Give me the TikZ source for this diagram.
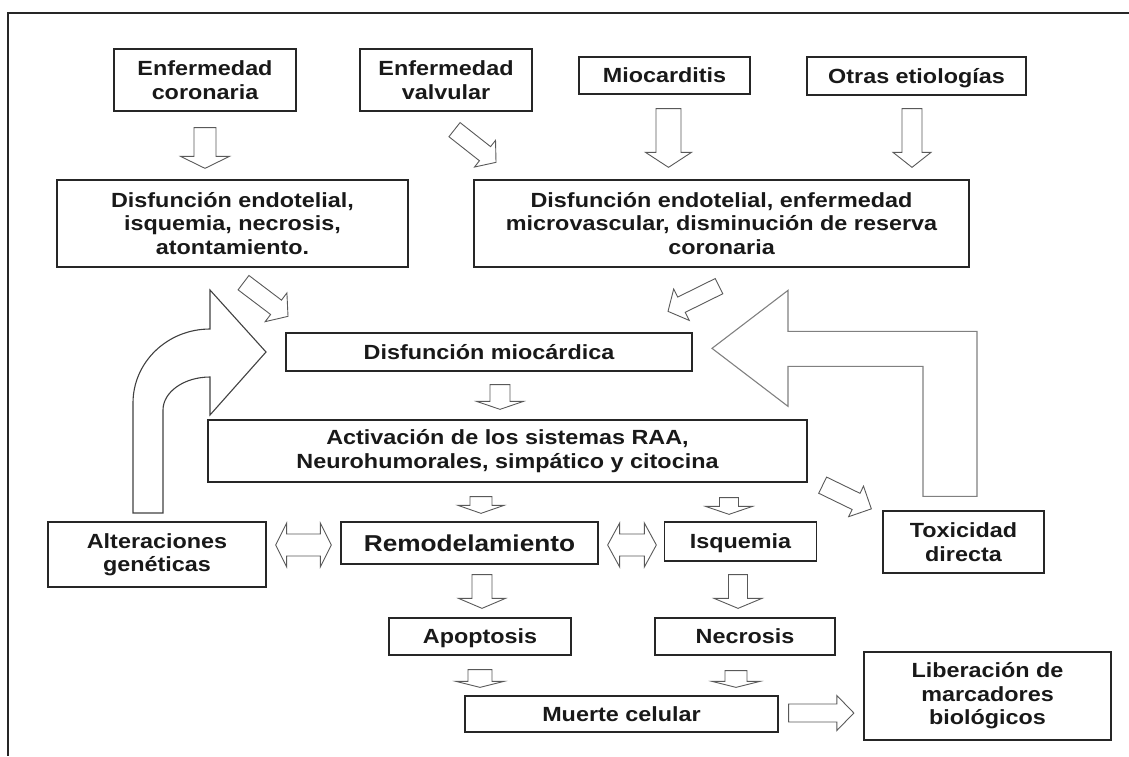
\documentclass[tikz,border=0pt]{standalone}
\usepackage{fontspec}
\setmainfont{Liberation Sans}[FakeStretch=1.14]
\usetikzlibrary{calc}

% hollow block arrow: [style]{tail}{tip}{shaft half width}{head half width}{head length}
\newcommand{\hollowarrow}[6][]{%
  \coordinate (ht) at #2;
  \coordinate (hp) at #3;
  \coordinate (hb) at ($(hp)!#6pt!(ht)$);
  \draw[harrow,#1] ($(ht)!#4pt!90:(hp)$) -- ($(hb)!#4pt!90:(hp)$) -- ($(hb)!#5pt!90:(hp)$) -- (hp)
    -- ($(hb)!#5pt!-90:(hp)$) -- ($(hb)!#4pt!-90:(hp)$) -- ($(ht)!#4pt!-90:(hp)$) -- cycle;}
% same with a head at both ends
\newcommand{\twowayarrow}[6][]{%
  \coordinate (da) at #2;
  \coordinate (dc) at #3;
  \coordinate (db1) at ($(da)!#6pt!(dc)$);
  \coordinate (db2) at ($(dc)!#6pt!(da)$);
  \draw[harrow,#1] (da) -- ($(db1)!#5pt!90:(dc)$) -- ($(db1)!#4pt!90:(dc)$) -- ($(db2)!#4pt!90:(dc)$)
    -- ($(db2)!#5pt!90:(dc)$) -- (dc) -- ($(db2)!#5pt!-90:(dc)$) -- ($(db2)!#4pt!-90:(dc)$)
    -- ($(db1)!#4pt!-90:(dc)$) -- ($(db1)!#5pt!-90:(dc)$) -- cycle;}

\begin{document}
\begin{tikzpicture}[x=1pt, y=-1pt,
    box/.style={draw=black!85, line width=1.3pt, text=black!90, align=center, inner sep=0pt,
      font=\fontsize{20.5}{23.5}\selectfont\bfseries},
    harrow/.style={draw=black!65, line width=0.9pt, line join=miter},
    bigarrow/.style={line width=1.1pt, line join=miter}]
    \useasboundingbox (0,0) rectangle (1129,756);
    \draw[line width=1.4pt, black!85] (1129,13) -- (8,13) -- (8,756);

    % causes
    \node[box, minimum width=182pt, minimum height=62pt] (coro) at (205,80) {Enfermedad\\coronaria};
    \node[box, minimum width=172pt, minimum height=62pt] (valv) at (446,80) {Enfermedad\\valvular};
    \node[box, minimum width=171pt, minimum height=37pt] (mioc) at (664.5,75.5) {Miocarditis};
    \node[box, minimum width=219pt, minimum height=38pt, text depth=0pt] (otras) at (916.5,76) {Otras etiologías};
    \node[box, minimum width=351pt, minimum height=87pt] (endoA) at (232.5,223.5)
        {Disfunción endotelial,\\isquemia, necrosis,\\atontamiento.};
    \node[box, minimum width=495pt, minimum height=87pt] (endoB) at (721.5,223.5)
        {Disfunción endotelial, enfermedad\\microvascular, disminución de reserva\\coronaria};

    % middle
    \node[box, minimum width=406pt, minimum height=38pt] (dmioc) at (489,352) {Disfunción miocárdica};
    \node[box, minimum width=599pt, minimum height=62pt] (activ) at (507.5,451)
        {Activación de los sistemas RAA,\\Neurohumorales, simpático y citocina};
    \node[box, minimum width=218pt, minimum height=65pt] (gen) at (157,554.5) {Alteraciones\\genéticas};
    \node[box, minimum width=257pt, minimum height=42pt, font=\fontsize{23}{26}\selectfont\bfseries]
        (remod) at (469.5,543) {Remodelamiento};
    \node[box, minimum width=152pt, minimum height=39pt, text depth=0pt] (isq) at (740.5,541.5) {Isquemia};
    \node[box, minimum width=161pt, minimum height=62pt] (toxic) at (963.5,542) {Toxicidad\\directa};

    % outcome
    \node[box, minimum width=182pt, minimum height=37pt, text depth=0pt] (apop) at (480,636.5) {Apoptosis};
    \node[box, minimum width=180pt, minimum height=37pt] (necro) at (745,636.5) {Necrosis};
    \node[box, minimum width=313pt, minimum height=36pt] (muerte) at (621.5,714) {Muerte celular};
    \node[box, minimum width=247pt, minimum height=88pt] (liber) at (987.5,696)
        {Liberación de\\marcadores\\biológicos};

    % block arrows
    \hollowarrow{($(coro.south)+(0,16)$)}{($(endoA.north)+(-27.5,-11)$)}{11}{24.5}{12}
    \hollowarrow{($(valv.south)+(8.5,18)$)}{($(endoB.north)+(-225.5,-17)$)}{9}{17}{14}
    \hollowarrow{($(mioc.south)+(4,14)$)}{($(endoB.north)+(-53,-12)$)}{12.5}{23}{15}
    \hollowarrow{($(otras.south)+(-4.5,13)$)}{($(endoB.north)+(190.5,-12)$)}{10}{19}{15}
    \hollowarrow{($(endoA.south)+(11,15)$)}{($(dmioc.north)+(-201,-16)$)}{9}{18}{15}
    \hollowarrow{($(endoB.south)+(-2.5,18.5)$)}{($(dmioc.north)+(179,-21)$)}{8.5}{17.5}{15}
    \hollowarrow{($(dmioc.south)+(11,13)$)}{($(activ.north)+(-7.5,-10)$)}{10}{23.5}{8}
    \hollowarrow{($(activ.south)+(-26.5,14)$)}{($(remod.north)+(11.5,-8)$)}{11}{23}{8}
    \hollowarrow{($(activ.south)+(221.5,15)$)}{($(isq.north)+(-11.5,-7)$)}{9.5}{23.5}{8}
    \hollowarrow{($(activ.south east)+(15,2.5)$)}{($(toxic.north west)+(-11,-1.5)$)}{9}{17}{17}
    \hollowarrow{($(remod.south)+(12.5,10)$)}{($(apop.north)+(2,-9)$)}{10}{23.5}{10}
    \hollowarrow{($(isq.south)+(-2.5,13)$)}{($(necro.north)+(-7,-9)$)}{9.5}{24}{10}
    \hollowarrow{($(apop.south)+(0,14)$)}{($(muerte.north)+(-141.5,-8)$)}{12}{24}{6}
    \hollowarrow{($(necro.south)+(-9,15)$)}{($(muerte.north)+(114.5,-8)$)}{11}{24}{6}
    \hollowarrow{($(muerte.east)+(10,-1)$)}{($(liber.west)+(-9.5,17)$)}{9}{17.5}{17}
    \twowayarrow{($(gen.east)+(9,-9.5)$)}{($(remod.west)+(-9,2)$)}{11}{22}{11}
    \twowayarrow{($(remod.east)+(9,2)$)}{($(isq.west)+(-7.5,3.5)$)}{11}{22}{12}

    % feedback arrows
    \draw[bigarrow, black!75] (133,513) -- (133,403) .. controls (133,362) and (167.5,329) .. (210,329)
        -- (210,290) -- (266,352) -- (210,415) -- (210,377)
        .. controls (184,377) and (163,392) .. (163,410) -- (163,513) -- cycle;
    \draw[bigarrow, black!50] ($(toxic.north)+(-40.5,-14)$) -- ++(54,0) -- ++(0,-165) -- ++(-189,0)
        -- ++(0,-41) -- ++(-76,58) -- ++(76,58) -- ++(0,-40) -- ++(135,0) -- cycle;
\end{tikzpicture}
\end{document}
